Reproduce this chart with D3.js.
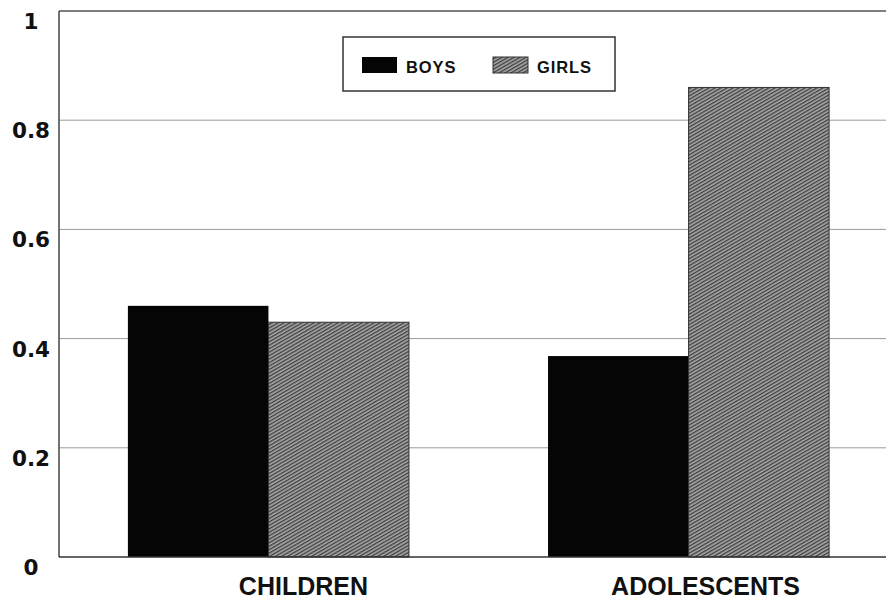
<!DOCTYPE html>
<html><head><meta charset="utf-8">
<script src="https://cdn.jsdelivr.net/npm/d3@7"></script>
<style>
html,body{margin:0;padding:0;background:#fff;}
svg{display:block;}
</style></head>
<body>
<svg id="chart" width="886" height="600"></svg>
<script>
const categories = ["CHILDREN", "ADOLESCENTS"];
const seriesNames = ["BOYS", "GIRLS"];
const boysValues = [0.46, 0.368];
const girlsValues = [0.43, 0.86];
const yTickValues = [0, 0.2, 0.4, 0.6, 0.8, 1];
const yTickLabels = ["0", "0.2", "0.4", "0.6", "0.8", "1"];
const labelShift = [35, 17];

(function () {
const svg = d3.select("#chart");
const defs = svg.append("defs");
const pat = defs.append("pattern").attr("id", "hatch")
  .attr("patternUnits", "userSpaceOnUse").attr("width", 3).attr("height", 3)
  .attr("patternTransform", "rotate(-30)");
pat.append("rect").attr("width", 3).attr("height", 3).attr("fill", "#a8a8a8");
pat.append("rect").attr("width", 3).attr("height", 1.3).attr("fill", "#3c3c3c");

const mLeft = 59, mTop = 11, mBottom = 557, mRight = 898;
const y = d3.scaleLinear().domain([0, 1]).range([mBottom, mTop]);
const x0 = d3.scaleBand().domain(categories).range([mLeft, mRight]).paddingInner(0.331).paddingOuter(0.164);
const x1 = d3.scaleBand().domain(seriesNames).range([0, x0.bandwidth()]);

// gridlines
svg.append("g").selectAll("line").data(yTickValues.filter(v => v > 0 && v < 1)).join("line")
  .attr("x1", mLeft).attr("x2", 886).attr("y1", d => y(d)).attr("y2", d => y(d))
  .attr("stroke", "#9a9a9a").attr("stroke-width", 1);
// top border
svg.append("line").attr("x1", mLeft).attr("x2", 886).attr("y1", y(1)).attr("y2", y(1))
  .attr("stroke", "#555").attr("stroke-width", 1.3);

const data = categories.map((c, i) => ({cat: c, vals: [
  {s: "BOYS", v: boysValues[i]}, {s: "GIRLS", v: girlsValues[i]}]}));

const g = svg.append("g").selectAll("g").data(data).join("g")
  .attr("transform", d => `translate(${x0(d.cat)},0)`);
g.selectAll("rect").data(d => d.vals).join("rect")
  .attr("x", d => x1(d.s)).attr("width", x1.bandwidth())
  .attr("y", d => y(d.v)).attr("height", d => y(0) - y(d.v))
  .attr("fill", d => d.s === "BOYS" ? "#050505" : "url(#hatch)")
  .attr("stroke", d => d.s === "BOYS" ? "none" : "#333")
  .attr("stroke-width", 1);

// axes lines
svg.append("line").attr("x1", mLeft).attr("x2", mLeft).attr("y1", y(1)).attr("y2", y(0))
  .attr("stroke", "#444").attr("stroke-width", 1.5);
svg.append("line").attr("x1", mLeft).attr("x2", 886).attr("y1", y(0)).attr("y2", y(0))
  .attr("stroke", "#333").attr("stroke-width", 1.5);

// y tick labels
svg.append("g").selectAll("text").data(yTickValues).join("text")
  .attr("x", 31).attr("y", d => y(d) + 18)
  .attr("text-anchor", "middle")
  .attr("font-family", "DejaVu Sans").attr("font-weight", "bold").attr("font-size", 21.5)
  .attr("fill", "#111")
  .text((d, i) => yTickLabels[i]);

// category labels
svg.append("g").selectAll("text").data(categories).join("text")
  .attr("x", (d, i) => x0(d) + x0.bandwidth() / 2 + labelShift[i]).attr("y", 595)
  .attr("text-anchor", "middle")
  .attr("font-family", "Liberation Sans, Arial").attr("font-weight", "bold").attr("font-size", 25)
  .attr("fill", "#111")
  .text(d => d);

// legend
const lg = svg.append("g");
lg.append("rect").attr("x", 343).attr("y", 37).attr("width", 272).attr("height", 54)
  .attr("fill", "#fff").attr("stroke", "#333").attr("stroke-width", 1.5);
const legItems = [{s: "BOYS", x: 362}, {s: "GIRLS", x: 493}];
legItems.forEach(it => {
  lg.append("rect").attr("x", it.x).attr("y", 57).attr("width", 35).attr("height", 16)
    .attr("fill", it.s === "BOYS" ? "#050505" : "url(#hatch)")
    .attr("stroke", it.s === "BOYS" ? "none" : "#333").attr("stroke-width", 1);
  lg.append("text").attr("x", it.x + 44).attr("y", 73)
    .attr("font-family", "Liberation Sans, Arial").attr("font-weight", "bold").attr("font-size", 16.5)
    .attr("letter-spacing", 0.9)
    .attr("fill", "#111").text(it.s);
});
})();
</script>
</body></html>
